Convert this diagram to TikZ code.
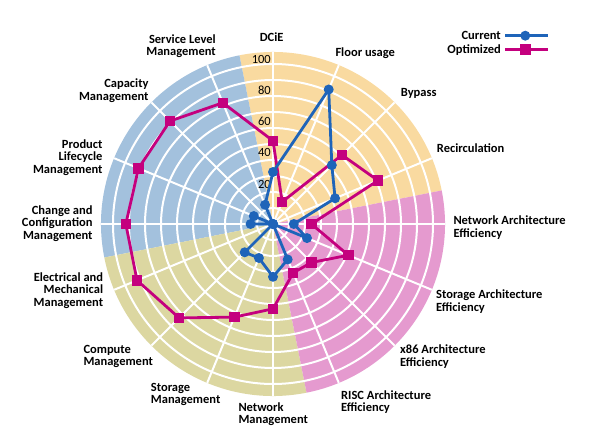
\documentclass[tikz,border=0pt]{standalone}
\usepackage{fontspec}
\setmainfont{Carlito}
\definecolor{peach}{RGB}{249,218,160}
\definecolor{bluebg}{RGB}{163,193,221}
\definecolor{khaki}{RGB}{220,215,161}
\definecolor{pinkbg}{RGB}{229,154,207}
\definecolor{curc}{RGB}{30,100,185}
\definecolor{optc}{RGB}{196,0,126}
\begin{document}
\begin{tikzpicture}[x=1pt,y=-1pt,
  lab/.style={font=\bfseries\fontsize{12.5}{12.5}\selectfont, inner sep=0pt},
  axlab/.style={font=\fontsize{12.5}{12.5}\selectfont, inner sep=0pt, anchor=east},
  ring/.style={draw=white, line width=2pt},
  optline/.style={draw=optc, line width=2.8pt, line join=round},
  curline/.style={draw=curc, line width=2.8pt, line join=round},
  optmark/.style={rectangle, fill=optc, minimum size=10.5pt, inner sep=0pt},
  curmark/.style={circle, fill=curc, minimum size=10pt, inner sep=0pt}]
\useasboundingbox (0,0) rectangle (600,447);
\begin{scope}[shift={(273,224)}, yscale=-1]
  \coordinate (ctr) at (0,0);
  \fill[peach] (ctr) -- (11.25:172) arc[start angle=11.25, end angle=101.25, radius=172] -- cycle;
  \fill[bluebg] (ctr) -- (101.25:172) arc[start angle=101.25, end angle=191.25, radius=172] -- cycle;
  \fill[khaki] (ctr) -- (191.25:172) arc[start angle=191.25, end angle=281.25, radius=172] -- cycle;
  \fill[pinkbg] (ctr) -- (281.25:172) arc[start angle=281.25, end angle=371.25, radius=172] -- cycle;
  \foreach \k in {1,...,10} \draw[ring] (ctr) circle[radius=16*\k];
  \foreach \a in {0,22.5,...,337.5} \draw[ring] (ctr) -- (\a:172);
  \foreach \v [count=\i] in {52,15,61,71,24,51,34,33,53,63,83,92,92,91,91,82}
    \coordinate (o\i) at ({90-22.5*(\i-1)}:{1.6*\v});
  \foreach \v [count=\i] in {32.5,91,52,42,13,23,0,24,33,23,25,0,14,13,0,13}
    \coordinate (c\i) at ({90-22.5*(\i-1)}:{1.6*\v});
\end{scope}
% axis labels
\node[axlab] (t20) at (271,184) {20};
\node[axlab] (t40) at (271,152) {40};
\node[axlab] (t60) at (271,121.7) {60};
\node[axlab] (t80) at (271,90.7) {80};
\node[axlab] (t100) at (271,59.3) {100};
% series
\draw[optline] (o1) \foreach \i in {2,...,16}{ -- (o\i)} -- cycle;
\foreach \i in {1,...,16} \node[optmark] (om\i) at (o\i) {};
\draw[curline] (c1) \foreach \i in {2,...,16}{ -- (c\i)} -- cycle;
\foreach \i in {1,...,16} \node[curmark] (cm\i) at (c\i) {};
% category labels (multi-line: anchor on last line's baseline)
\node[lab, anchor=base] (l1) at (271.7,41.4) {DCiE};
\node[lab, anchor=base west] (l2) at (335.3,56.4) {Floor usage};
\node[lab, anchor=base west] (l3) at (400.7,96) {Bypass};
\node[lab, anchor=base west] (l4) at (436.7,152.7) {Recirculation};
\node[lab, anchor=base west, align=left] (l5) at (453.3,237.2) {Network Architecture\\Efficiency};
\node[lab, anchor=base west, align=left] (l6) at (436,311.2) {Storage Architecture\\Efficiency};
\node[lab, anchor=base west, align=left] (l7) at (400,366.2) {x86 Architecture\\Efficiency};
\node[lab, anchor=base west, align=left] (l8) at (341,411.9) {RISC Architecture\\Efficiency};
\node[lab, anchor=base west, align=left] (l9) at (238.3,423.5) {Network\\Management};
\node[lab, anchor=base west, align=left] (l10) at (150.7,403.9) {Storage\\Management};
\node[lab, anchor=base west, align=left] (l11) at (83.3,365.5) {Compute\\Management};
\node[lab, anchor=base east, align=right] (l12) at (103.3,306) {Electrical and\\Mechanical\\Management};
\node[lab, anchor=base east, align=right] (l13) at (92.7,239.4) {Change and\\Configuration\\Management};
\node[lab, anchor=base east, align=right] (l14) at (102.7,173) {Product\\Lifecycle\\Management};
\node[lab, anchor=base east, align=right] (l15) at (148.7,100.2) {Capacity\\Management};
\node[lab, anchor=base east, align=right] (l16) at (216,55.5) {Service Level\\Management};
% legend
\node[lab, anchor=base east] (lgc) at (501,39.4) {Current};
\node[lab, anchor=base east] (lgo) at (501,53) {Optimized};
\coordinate (lc1) at (505,35.7); \coordinate (lc2) at (548,35.7);
\coordinate (lo1) at (505,49.3); \coordinate (lo2) at (548,49.3);
\draw[curline] (lc1) -- (lc2);
\node[curmark] (lcm) at (525.3,35.7) {};
\draw[optline] (lo1) -- (lo2);
\node[optmark] (lom) at (525.3,49.3) {};
\end{tikzpicture}
\end{document}
